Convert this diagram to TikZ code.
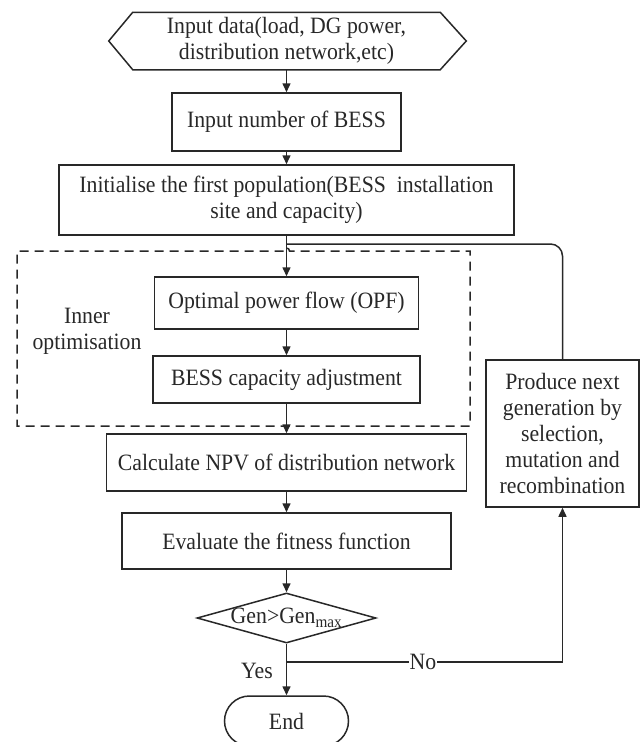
\documentclass[tikz,border=0pt]{standalone}
\usepackage{fontspec}
\setmainfont[FakeStretch=0.93]{Liberation Serif}
\usetikzlibrary{shapes.geometric,shapes.misc,arrows.meta}
\definecolor{ink}{RGB}{40,40,40}
\begin{document}
\begin{tikzpicture}[x=1pt,y=-1pt, line width=1.5pt, color=ink,
  font=\fontsize{23.4}{26}\selectfont,
  box/.style={draw, rectangle, inner sep=0pt, align=center},
  arr/.style={-{Triangle[length=9pt,width=8pt]}}]
\useasboundingbox (0,0) rectangle (643,742);
% hexagon input
\node[inner sep=0pt, minimum width=306pt, minimum height=56pt, align=center] (input) at (286.5,41)
  {Input data(load, DG power,\\distribution network,etc)};
\draw (input.north west) -- (input.north east) -- ([xshift=26pt]input.east)
  -- (input.south east) -- (input.south west) -- ([xshift=-24pt]input.west) -- cycle;
\node[box, minimum width=229pt, minimum height=58pt] (nb) at (286.5,122) {Input number of BESS};
\node[box, minimum width=455pt, minimum height=70pt] (init) at (286.5,200)
  {Initialise the first population(BESS\ \ installation\\site and capacity)};
\node[box, minimum width=264pt, minimum height=52pt] (opf) at (286.5,303) {Optimal power flow (OPF)};
\node[box, minimum width=267pt, minimum height=47pt] (adj) at (286.5,379.5) {BESS capacity adjustment};
\node[box, minimum width=360pt, minimum height=57pt] (npv) at (286.5,462.5) {Calculate NPV of distribution network};
\node[box, minimum width=329pt, minimum height=56pt] (eval) at (286.5,541) {Evaluate the fitness function};
\node[draw, diamond, minimum width=179pt, minimum height=50pt, inner sep=0pt] (dec) at (286.5,618) {};
\node (dect) at (dec.center) {Gen>Gen\textsubscript{max}};
\node[draw, rounded rectangle, minimum width=124pt, minimum height=50pt, inner sep=0pt] (end) at (286.5,721) {End};
\node[box, minimum width=153pt, minimum height=147pt] (prod) at (562.5,433.5)
  {Produce next\\generation by\\selection,\\mutation and\\recombination};
\node[align=center] (inner) at (87,331) {Inner\\optimisation};
% dashed inner box with hop
\draw[dash pattern=on 9pt off 6pt] (283.5,251) -- (17,251) -- (17,426) -- (470,426) -- (470,251) -- (289.5,251)
  arc[start angle=0, end angle=180, radius=3pt];
% main flow
\draw[arr] (input.south) -- (nb.north);
\draw[arr] (nb.south) -- (init.north);
\draw[arr] (init.south) -- (opf.north);
\draw[arr] (opf.south) -- (adj.north);
\draw[arr] (adj.south) -- (npv.north);
\draw[arr] (npv.south) -- (eval.north);
\draw[arr] (eval.south) -- (dec.north);
\draw[arr] (dec.south) -- (end.north);
% feedback
\coordinate (join) at (286.5,244);
\draw[rounded corners=12pt] (prod.north) |- (join);
\coordinate (split) at (286.5,662);
\draw[arr] (split) -| (prod.south);
\node[fill=white, inner sep=0.5pt] (no) at (423,662) {No};
\node (yes) at (257,671) {Yes};
\end{tikzpicture}
\end{document}
